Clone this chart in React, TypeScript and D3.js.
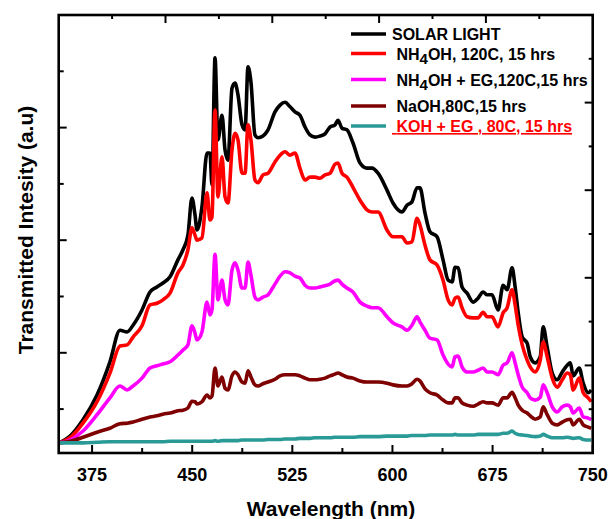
import React from 'react'
import * as d3 from 'd3'

// wavelength grid (nm) shared by all spectra
const wavelength = [
  350.5, 358.5, 368.2, 378.7, 388.4,
  395.9, 401.2, 405.7, 412.4, 418.4,
  423.6, 428.1, 433.4, 439.3, 443.1,
  446.8, 449.8, 452.1, 453.6, 457.3,
  461.1, 463.3, 464.8, 467.1, 469.3,
  472.3, 474.6, 476.8, 479.8, 482.1,
  484.3, 487.3, 489.6, 491.8, 494.0,
  497.0, 499.3, 503.0, 506.8, 512.0,
  515.8, 519.5, 523.3, 527.0, 530.7,
  534.5, 538.2, 542.0, 545.7, 549.5,
  553.2, 557.0, 559.2, 562.2, 565.9,
  570.4, 575.7, 580.9, 584.7, 589.2,
  595.9, 600.4, 607.1, 610.9, 614.6,
  618.4, 620.6, 624.4, 628.1, 633.4,
  637.9, 641.7, 644.7, 646.9, 649.2,
  652.1, 655.9, 660.4, 664.1, 667.9,
  670.9, 674.6, 679.1, 682.9, 685.9,
  689.6, 691.9, 694.2, 697.2, 700.9,
  703.2, 706.9, 710.7, 712.9, 715.9,
  719.7, 723.4, 727.2, 730.9, 733.2,
  735.4, 739.9, 742.9, 746.6, 748.9,
]

const solarLight = [
  40, 52, 81, 125, 184,
  240, 237, 249, 276, 308,
  317, 324, 335, 365, 383,
  409, 475, 445, 418, 459,
  555, 555, 498, 724, 578,
  622, 560, 542, 670, 679,
  658, 605, 596, 708, 681,
  587, 582, 585, 596, 628,
  640, 645, 637, 628, 622,
  601, 587, 583, 585, 589,
  601, 605, 613, 599, 596,
  573, 537, 528, 528, 519,
  489, 466, 450, 462, 468,
  493, 493, 448, 415, 406,
  365, 329, 326, 352, 351,
  317, 306, 290, 297, 308,
  303, 303, 276, 320, 312,
  351, 317, 271, 228, 217,
  193, 182, 193, 246, 210,
  164, 152, 166, 178, 182,
  159, 173, 146, 129, 134,
]

const nh4oh = [
  40, 49, 75, 113, 164,
  212, 214, 228, 248, 285,
  288, 294, 306, 342, 356,
  383, 422, 409, 400, 404,
  484, 436, 441, 631, 477,
  548, 477, 466, 560, 590,
  578, 519, 519, 605, 578,
  507, 502, 516, 519, 539,
  551, 557, 551, 555, 528,
  507, 512, 512, 510, 516,
  519, 535, 537, 519, 512,
  494, 471, 454, 450, 450,
  418, 406, 406, 395, 397,
  439, 427, 391, 365, 356,
  329, 294, 285, 297, 299,
  280, 264, 262, 262, 272,
  264, 264, 246, 271, 280,
  312, 285, 249, 214, 187,
  175, 166, 187, 219, 193,
  155, 139, 152, 164, 161,
  134, 155, 129, 120, 113,
]

const nh4ohEg = [
  40, 45, 61, 90, 120,
  141, 134, 141, 155, 173,
  177, 180, 184, 196, 205,
  214, 248, 235, 223, 237,
  290, 267, 276, 375, 294,
  329, 294, 285, 347, 360,
  347, 315, 315, 361, 338,
  299, 294, 299, 303, 322,
  336, 344, 342, 336, 333,
  320, 315, 315, 317, 319,
  322, 328, 329, 322, 315,
  308, 290, 283, 280, 280,
  264, 253, 246, 240, 249,
  264, 255, 240, 226, 223,
  196, 180, 175, 193, 194,
  175, 166, 166, 169, 173,
  166, 166, 161, 178, 182,
  200, 182, 161, 139, 129,
  120, 116, 121, 143, 129,
  104, 95, 104, 107, 104,
  93, 102, 86, 84, 81,
]

const naoh = [
  40, 43, 50, 59, 66,
  74, 75, 77, 82, 86,
  88, 91, 93, 97, 98,
  102, 114, 113, 109, 113,
  125, 120, 123, 173, 141,
  157, 137, 134, 159, 166,
  161, 148, 146, 168, 157,
  143, 141, 145, 148, 153,
  159, 161, 161, 161, 159,
  155, 152, 152, 153, 155,
  159, 162, 164, 161, 157,
  155, 150, 148, 148, 148,
  146, 143, 141, 141, 145,
  153, 150, 136, 129, 125,
  116, 111, 111, 120, 120,
  111, 107, 105, 109, 113,
  111, 111, 107, 120, 120,
  130, 120, 107, 98, 93,
  88, 82, 86, 104, 90,
  75, 72, 77, 81, 82,
  72, 82, 72, 68, 66,
]

const kohEg = [
  40, 40, 40, 41, 42,
  42, 42, 42, 42, 42,
  42, 42, 43, 43, 43,
  43, 43, 43, 43, 43,
  43, 43, 43, 44, 43,
  44, 44, 44, 44, 44,
  44, 45, 45, 45, 45,
  45, 45, 45, 46, 46,
  46, 47, 47, 47, 48,
  48, 48, 49, 49, 49,
  49, 50, 50, 50, 50,
  50, 51, 51, 51, 51,
  52, 52, 52, 52, 53,
  53, 53, 53, 54, 54,
  54, 54, 54, 55, 54,
  54, 54, 54, 55, 55,
  55, 55, 55, 57, 57,
  61, 57, 55, 54, 53,
  52, 51, 52, 55, 52,
  49, 49, 49, 50, 49,
  48, 49, 46, 45, 45,
]

const seriesNames = ['SOLAR LIGHT', 'NH4OH, 120C, 15 hrs', 'NH4OH + EG,120C,15 hrs', 'NaOH,80C,15 hrs', 'KOH + EG , 80C, 15 hrs']
const seriesValues = [solarLight, nh4oh, nh4ohEg, naoh, kohEg]
const seriesColors = ['#000000', '#ff0000', '#ff00ff', '#7f0000', '#2a9a97']

const xMajorTicks = [375, 450, 525, 600, 675, 750]
const xMinorTicks = [412.5, 487.5, 562.5, 637.5, 712.5]

const W = 613
const H = 519
const left = 58.7
const right = 592.7
const top = 15
const bottom = 453
const font = "'Liberation Sans', Arial, sans-serif"

const App = () => {
  const x = d3.scaleLinear().domain([350, 750]).range([left, right])
  const y = d3.scaleLinear().domain([22, 800]).range([bottom, top])
  // opposite axes in Origin have their own 0-10 scales
  const yRight = d3.scaleLinear().domain([0, 10]).range([bottom, top])
  const xTop = d3.scaleLinear().domain([0, 10]).range([left, right])

  const line = d3
    .line<number>()
    .x((_, i) => x(wavelength[i]))
    .y((d) => y(d))
    .curve(d3.curveMonotoneX)

  const legendY = [34, 53.5, 79.5, 106, 126]

  const label = (name: string) => {
    if (!name.startsWith('NH4OH')) return name
    return (
      <>
        {'NH'}
        <tspan dy={4} fontSize={15}>4</tspan>
        <tspan dy={-4}>{name.slice(3)}</tspan>
      </>
    )
  }

  return (
    <svg width={W} height={H} style={{ position: 'absolute', left: 0, top: 0, background: '#fff' }} fontFamily={font}>
      <rect x={0} y={0} width={W} height={H} fill="#fff" />

      {seriesValues.map((vals, i) => (
        <path key={i} d={line(vals) || ''} fill="none" stroke={seriesColors[i]} strokeWidth={3.6} strokeLinejoin="round" />
      ))}

      {/* bottom ticks */}
      {xMajorTicks.map((t) => (
        <g key={'xb' + t}>
          <line x1={x(t)} x2={x(t)} y1={bottom} y2={bottom - 8} stroke="#000" strokeWidth={2} />
          <text x={x(t)} y={481} textAnchor="middle" fontSize={18} fontWeight="bold">{t}</text>
        </g>
      ))}
      {xMinorTicks.map((t) => (
        <line key={'xm' + t} x1={x(t)} x2={x(t)} y1={bottom} y2={bottom - 5} stroke="#000" strokeWidth={2} />
      ))}

      {/* left ticks */}
      {d3.range(100, 800, 100).map((t) => (
        <line key={'yl' + t} x1={left} x2={left + (t % 200 === 0 ? 8 : 5)} y1={y(t)} y2={y(t)} stroke="#000" strokeWidth={2} />
      ))}

      {/* right ticks */}
      {d3.range(1, 10).map((t) => (
        <line key={'yr' + t} x1={right} x2={right - (t % 2 === 0 ? 8 : 4)} y1={yRight(t)} y2={yRight(t)} stroke="#000" strokeWidth={2} />
      ))}

      {/* top ticks */}
      {d3.range(1, 10).map((t) => (
        <line key={'xt' + t} x1={xTop(t)} x2={xTop(t)} y1={top} y2={top + (t % 2 === 0 ? 8 : 4)} stroke="#000" strokeWidth={2} />
      ))}

      <rect x={left} y={top} width={right - left} height={bottom - top} fill="none" stroke="#000" strokeWidth={2.6} />

      {/* legend */}
      {seriesNames.map((name, i) => (
        <g key={name}>
          <line x1={351} x2={386} y1={legendY[i]} y2={legendY[i]} stroke={seriesColors[i]} strokeWidth={3.6} />
          <text
            x={392}
            y={legendY[i] + 6}
            fontSize={16}
            fontWeight="bold"
            fill={i === 4 ? '#ff0000' : '#000'}
            textDecoration={i === 4 ? 'underline' : undefined}
            style={{ whiteSpace: 'pre' }}>
            {i === 0 ? '' : ' '}
            {label(name)}
          </text>
        </g>
      ))}

      <text x={331} y={516} textAnchor="middle" fontSize={21} fontWeight="bold">Wavelength (nm)</text>
      <text transform="translate(33,230) rotate(-90)" textAnchor="middle" fontSize={21} fontWeight="bold">
        Transmitted Intesity (a.u)
      </text>
    </svg>
  )
}

export default App
